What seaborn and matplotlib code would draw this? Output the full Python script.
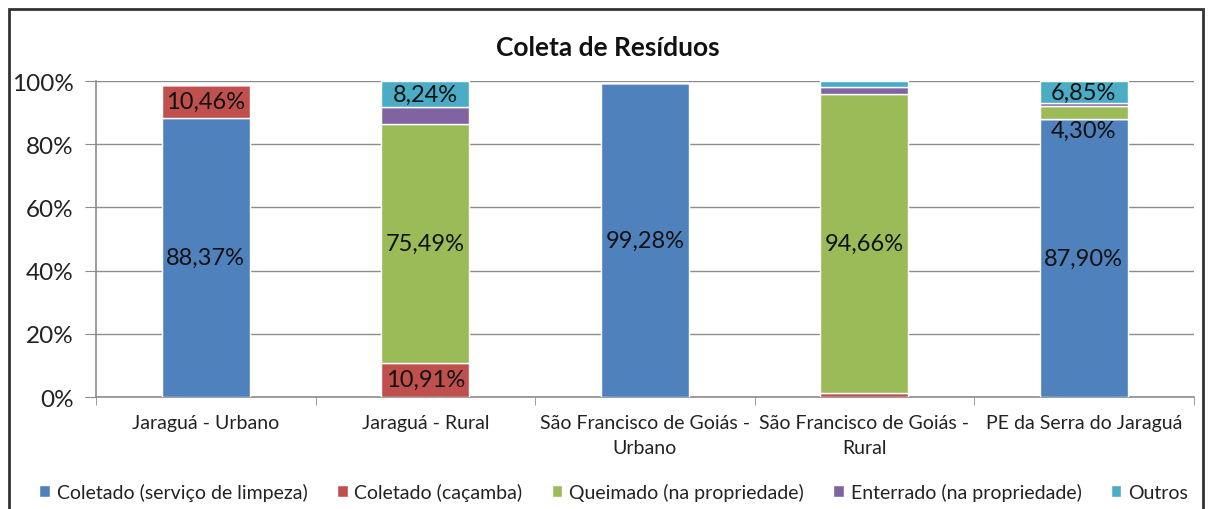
import numpy as np
import pandas as pd
import seaborn as sns
import matplotlib.pyplot as plt
from matplotlib.patches import Rectangle

categorias = ["Jaraguá - Urbano", "Jaraguá - Rural", "São Francisco de Goiás -\nUrbano",
              "São Francisco de Goiás -\nRural", "PE da Serra do Jaraguá"]
series = ["Coletado (serviço de limpeza)", "Coletado (caçamba)", "Queimado (na propriedade)",
          "Enterrado (na propriedade)", "Outros"]
limpeza = [88.37, 0.0, 99.28, 0.0, 87.90]
cacamba = [10.46, 10.91, 0.0, 1.30, 0.0]
queimado = [0.0, 75.49, 0.0, 94.66, 4.30]
enterrado = [0.0, 5.36, 0.0, 2.20, 0.95]
outros = [0.0, 8.24, 0.0, 1.84, 6.85]
cores = ["#4F81BD", "#C0504D", "#9BBB59", "#8064A2", "#4BACC6"]

# segmentos com rotulo: (categoria, serie)
rotulos = [(0, 0), (0, 1), (1, 1), (1, 2), (1, 4), (2, 0), (3, 2), (4, 0), (4, 2), (4, 4)]

valores = [limpeza, cacamba, queimado, enterrado, outros]

sns.set_style("white")
plt.rcParams['font.family'] = ['Lato', 'DejaVu Sans']

fig = plt.figure(figsize=(12.08, 5.10), dpi=100)
ax = fig.add_axes([0.0795, 0.2196, 0.9085, 0.6194])

base = np.zeros(len(categorias))
centros = {}
for i, (nome, vals) in enumerate(zip(series, valores)):
    vals = np.array(vals)
    sns.barplot(x=categorias, y=vals, bottom=base, color=cores[i], width=0.4, saturation=1,
                edgecolor="white", linewidth=1, ax=ax, label=nome, zorder=3)
    for c in range(len(categorias)):
        centros[(c, i)] = (base[c] + vals[c] / 2, vals[c])
    base = base + vals

for c, s in rotulos:
    y, v = centros[(c, s)]
    txt = f"{v:.2f}%".replace(".", ",")
    dy = -13 if (c, s) == (4, 2) else 0
    ax.annotate(txt, (c, y), xytext=(0, dy), textcoords="offset points",
                ha="center", va="center", fontsize=17, color="#111111", zorder=5)

ax.set_ylim(0, 100)
ax.set_xlim(-0.5, len(categorias) - 0.5)
ax.set_yticks(np.arange(0, 101, 20))
ax.set_yticklabels([f"{t}%" for t in range(0, 101, 20)], fontsize=17.5, color="#222222")
ax.yaxis.grid(True, color="#8c8c8c", linewidth=1, zorder=0)
ax.tick_params(axis="y", length=8, color="#8c8c8c", pad=8, left=True)
ax.tick_params(axis="x", length=0, pad=12, labelsize=14, labelcolor="#222222")
for t in ax.get_xticklabels():
    t.set_linespacing(1.6)
ax.set_xticks(np.arange(-0.5, len(categorias)), minor=True)
ax.tick_params(axis="x", which="minor", length=6, color="#8c8c8c", bottom=True)
for lado in ["top", "right"]:
    ax.spines[lado].set_visible(False)
for lado in ["left", "bottom"]:
    ax.spines[lado].set_color("#8c8c8c")
    ax.spines[lado].set_linewidth(1.2)
ax.set_xlabel("")
if ax.legend_:
    ax.legend_.remove()

fig.text(0.503, 0.905, "Coleta de Resíduos", ha="center", va="center",
         fontsize=19, fontweight="bold", color="#111111")

h, l = ax.get_legend_handles_labels()
fig.legend(h, l, loc="center", bbox_to_anchor=(0.508, 0.033), ncol=5, frameon=False,
           fontsize=14, handlelength=0.55, handleheight=0.55, handletextpad=0.35,
           columnspacing=1.5, labelcolor="#222222")

fig.add_artist(Rectangle((9 / 1208, -0.05), 1194 / 1208, 1.05 - 10 / 510,
                         transform=fig.transFigure, fill=False, edgecolor="#333333",
                         linewidth=2))

fig.savefig("out.png", dpi=100)
